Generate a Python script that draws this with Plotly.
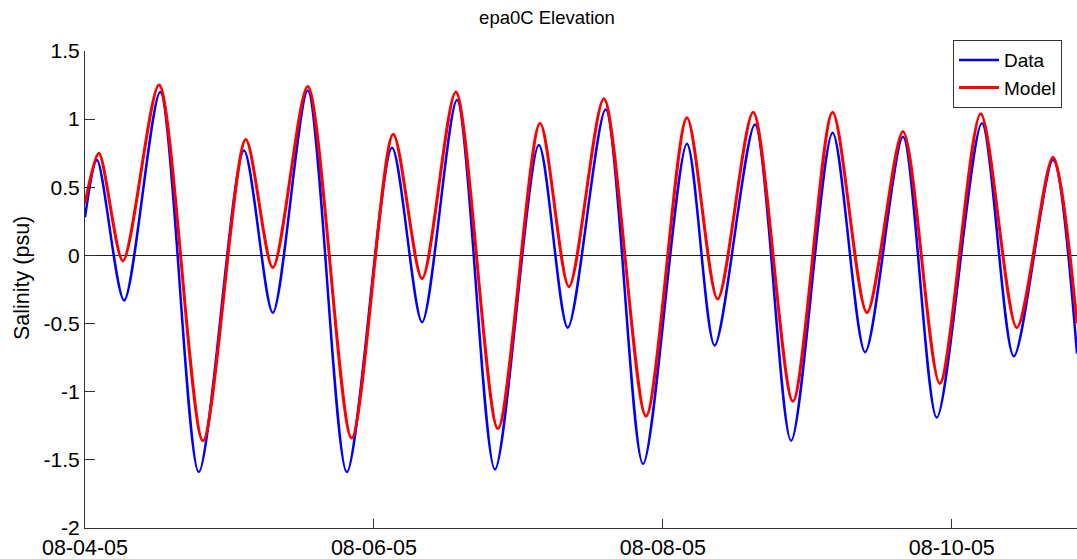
import pandas as pd
import plotly.graph_objects as go

# hours after 2005-08-04 00:00 and values
data_hours = [0.0, 2.0, 6.5, 12.5, 18.9, 26.4, 31.2, 37.0, 43.5, 51.0, 56.0, 61.8, 68.1,
              75.4, 80.2, 86.5, 92.7, 100.0, 104.6, 111.3, 117.3, 124.2, 129.6, 135.9,
              141.5, 149.0, 154.3, 160.8, 164.8]
data_vals = [0.28, 0.70, -0.33, 1.20, -1.59, 0.77, -0.42, 1.21, -1.59, 0.79, -0.49, 1.14, -1.57,
             0.81, -0.53, 1.07, -1.53, 0.82, -0.66, 0.96, -1.36, 0.90, -0.71, 0.87,
             -1.19, 0.97, -0.74, 0.70, -0.72]

model_hours = [0.0, 2.3, 6.3, 12.3, 19.6, 26.7, 31.2, 37.0, 44.3, 51.2, 56.0, 61.6, 68.6,
               75.6, 80.4, 86.2, 93.2, 100.0, 105.1, 111.0, 117.6, 124.2, 129.9, 135.9,
               142.0, 148.8, 154.8, 160.8, 164.8]
model_vals = [0.38, 0.75, -0.04, 1.25, -1.36, 0.85, -0.09, 1.24, -1.34, 0.89, -0.17, 1.20, -1.27,
              0.97, -0.23, 1.15, -1.18, 1.01, -0.32, 1.05, -1.07, 1.05, -0.42, 0.91,
              -0.94, 1.04, -0.53, 0.72, -0.50]

y_ticks = [-2, -1.5, -1, -0.5, 0, 0.5, 1, 1.5]
y_tick_text = ["-2", "-1.5", "-1", "-0.5", "0", "0.5", "1", "1.5"]

base = pd.Timestamp("2005-08-04 00:00")
data_t = [base + pd.Timedelta(hours=h) for h in data_hours]
model_t = [base + pd.Timedelta(hours=h) for h in model_hours]

FONT = "Liberation Sans, Arial, sans-serif"

fig = go.Figure()
fig.add_trace(go.Scatter(x=data_t, y=data_vals, mode="lines", name="Data",
                         line=dict(color="#0000FF", width=2.5, shape="spline", smoothing=0.8)))
fig.add_trace(go.Scatter(x=model_t, y=model_vals, mode="lines", name="Model",
                         line=dict(color="#FF0000", width=3, shape="spline", smoothing=0.8)))

fig.update_layout(
    width=1077, height=559,
    margin=dict(l=85, r=0, t=51, b=31),
    paper_bgcolor="white", plot_bgcolor="white",
    font=dict(family=FONT, size=20, color="black"),
    title=dict(text="epa0C Elevation", x=547 / 1077, xref="container", xanchor="center",
               y=1 - 18 / 559, yref="container", yanchor="middle",
               font=dict(family=FONT, size=18.5, color="black")),
    showlegend=True,
    legend=dict(x=0.875, y=1.023, xanchor="left", yanchor="top",
                bgcolor="white", bordercolor="#333333", borderwidth=1,
                font=dict(family=FONT, size=19, color="black"),
                tracegroupgap=0, itemwidth=40),
    xaxis=dict(type="date",
               range=[base, base + pd.Timedelta(hours=164.8)],
               tick0="2005-08-04", dtick=2 * 86400000, tickformat="%m-%d-%y",
               ticks="inside", ticklen=9, tickcolor="#333333",
               showline=True, linecolor="#333333", linewidth=1,
               showgrid=False, zeroline=False,
               tickfont=dict(family=FONT, size=21.5, color="black")),
    yaxis=dict(range=[-2, 1.5], tickvals=y_ticks, ticktext=y_tick_text,
               ticks="inside", ticklen=10, tickcolor="#333333",
               showline=True, linecolor="#333333", linewidth=1,
               showgrid=False, zeroline=True, zerolinecolor="#222222", zerolinewidth=1,
               tickfont=dict(family=FONT, size=21, color="black")),
    annotations=[dict(text="Salinity (psu)", textangle=-90, showarrow=False,
                      xref="paper", yref="paper", x=(22 - 85) / 992, y=(528 - 278) / 477,
                      xanchor="center", yanchor="middle",
                      font=dict(family=FONT, size=21.5, color="black"))],
)

fig.write_html("out.html")
